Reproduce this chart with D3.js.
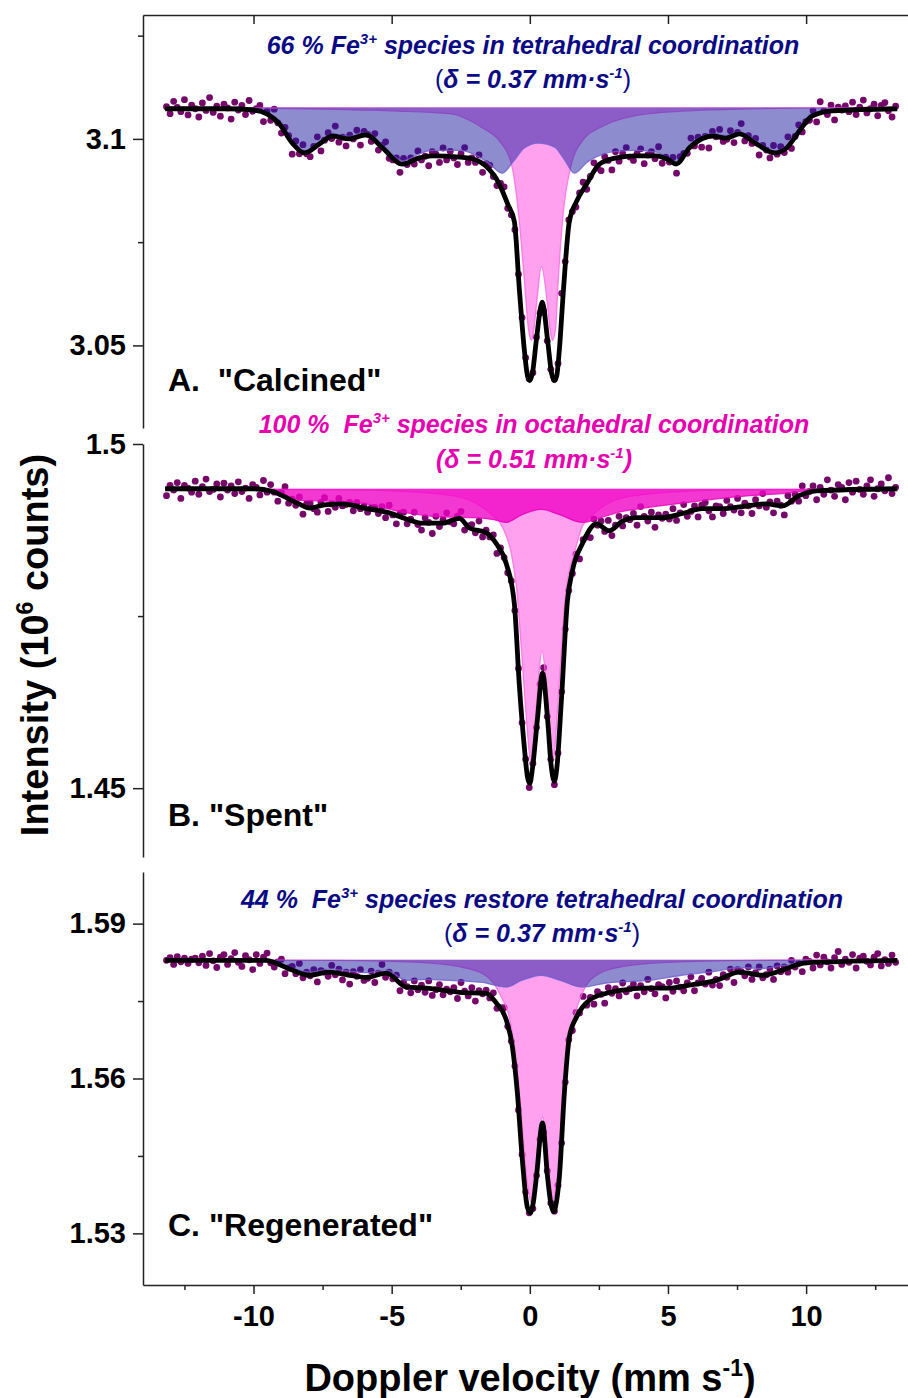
<!DOCTYPE html>
<html>
<head>
<meta charset="utf-8">
<script src="https://cdn.jsdelivr.net/npm/d3@7"></script>
<style>
  body { margin: 0; background: #fff; }
  svg { display: block; font-family: "Liberation Sans", Arial, sans-serif; }
  text { white-space: pre; }
</style>
</head>
<body>
<div id="chart"></div>
<script>
// channel velocities (mm/s) of the folded spectra: first channel and spacing
const velStart = -13.15;
const velStep = 0.13;

// measured counts (10^6) per channel
const countsA = [
  3.1078, 3.1061, 3.1091, 3.1076, 3.1066, 3.1095, 3.1058, 3.1082, 3.1073, 3.1053,
  3.1087, 3.1069, 3.1100, 3.1064, 3.1079, 3.1055, 3.1084, 3.1075, 3.1048, 3.1089,
  3.1070, 3.1081, 3.1059, 3.1093, 3.1067, 3.1073, 3.1081, 3.1042, 3.1067, 3.1045,
  3.1072, 3.1039, 3.1014, 3.1028, 3.1008, 3.0963, 3.0995, 3.0964, 3.0986, 3.0964,
  3.0957, 3.0982, 3.1005, 3.0971, 3.0997, 3.1015, 3.1001, 3.1031, 3.0992, 3.1004,
  3.0983, 3.1009, 3.1000, 3.1021, 3.0985, 3.1018, 3.1011, 3.0994, 3.1013, 3.0973,
  3.0984, 3.0993, 3.0953, 3.0949, 3.0954, 3.0919, 3.0953, 3.0938, 3.0954, 3.0939,
  3.0971, 3.0949, 3.0958, 3.0935, 3.0969, 3.0963, 3.0943, 3.0978, 3.0949, 3.0970,
  3.0954, 3.0938, 3.0964, 3.0979, 3.0943, 3.0954, 3.0943, 3.0961, 3.0919, 3.0940,
  3.0936, 3.0909, 3.0887, 3.0892, 3.0884, 3.0832, 3.0816, 3.0780, 3.0672, 3.0567,
  3.0470, 3.0419, 3.0434, 3.0520, 3.0578, 3.0583, 3.0511, 3.0442, 3.0418, 3.0456,
  3.0626, 3.0703, 3.0804, 3.0824, 3.0835, 3.0869, 3.0895, 3.0878, 3.0909, 3.0942,
  3.0929, 3.0923, 3.0957, 3.0948, 3.0925, 3.0969, 3.0946, 3.0965, 3.0979, 3.0956,
  3.0948, 3.0964, 3.0976, 3.0940, 3.0961, 3.0969, 3.0952, 3.0981, 3.0941, 3.0956,
  3.0944, 3.0955, 3.0917, 3.0957, 3.0965, 3.0965, 3.1002, 3.0983, 3.1004, 3.0980,
  3.1006, 3.0978, 3.1018, 3.1005, 3.1023, 3.0994, 3.0999, 3.1020, 3.0991, 3.1016,
  3.1037, 3.0995, 3.1008, 3.0989, 3.1001, 3.0961, 3.0984, 3.0973, 3.0954, 3.0984,
  3.0963, 3.0981, 3.0967, 3.1005, 3.0977, 3.1006, 3.1034, 3.1017, 3.1042, 3.1045,
  3.1068, 3.1041, 3.1090, 3.1068, 3.1059, 3.1082, 3.1046, 3.1077, 3.1070, 3.1080,
  3.1066, 3.1089, 3.1059, 3.1077, 3.1094, 3.1063, 3.1073, 3.1084, 3.1056, 3.1081,
  3.1088, 3.1068, 3.1053, 3.1079
];
const countsB = [
  1.4925, 1.4940, 1.4933, 1.4944, 1.4921, 1.4940, 1.4936, 1.4930, 1.4946, 1.4927,
  1.4938, 1.4949, 1.4931, 1.4934, 1.4942, 1.4923, 1.4943, 1.4933, 1.4939, 1.4928,
  1.4945, 1.4931, 1.4936, 1.4921, 1.4941, 1.4937, 1.4926, 1.4947, 1.4930, 1.4941,
  1.4930, 1.4917, 1.4930, 1.4938, 1.4914, 1.4920, 1.4911, 1.4923, 1.4898, 1.4913,
  1.4914, 1.4906, 1.4901, 1.4915, 1.4922, 1.4902, 1.4913, 1.4908, 1.4921, 1.4910,
  1.4912, 1.4915, 1.4903, 1.4915, 1.4906, 1.4910, 1.4901, 1.4907, 1.4908, 1.4899,
  1.4909, 1.4893, 1.4911, 1.4897, 1.4884, 1.4899, 1.4901, 1.4884, 1.4891, 1.4901,
  1.4883, 1.4875, 1.4893, 1.4886, 1.4870, 1.4895, 1.4880, 1.4890, 1.4900, 1.4887,
  1.4884, 1.4895, 1.4902, 1.4875, 1.4881, 1.4883, 1.4871, 1.4888, 1.4865, 1.4875,
  1.4865, 1.4868, 1.4841, 1.4849, 1.4835, 1.4813, 1.4801, 1.4758, 1.4674, 1.4595,
  1.4542, 1.4501, 1.4536, 1.4588, 1.4651, 1.4675, 1.4604, 1.4542, 1.4505, 1.4551,
  1.4640, 1.4731, 1.4787, 1.4812, 1.4840, 1.4833, 1.4861, 1.4865, 1.4864, 1.4891,
  1.4882, 1.4888, 1.4873, 1.4889, 1.4867, 1.4882, 1.4895, 1.4881, 1.4893, 1.4890,
  1.4899, 1.4882, 1.4909, 1.4895, 1.4888, 1.4901, 1.4879, 1.4897, 1.4892, 1.4898,
  1.4891, 1.4906, 1.4889, 1.4900, 1.4912, 1.4895, 1.4902, 1.4910, 1.4894, 1.4911,
  1.4915, 1.4903, 1.4894, 1.4910, 1.4909, 1.4899, 1.4918, 1.4909, 1.4904, 1.4921,
  1.4900, 1.4914, 1.4910, 1.4899, 1.4919, 1.4910, 1.4928, 1.4908, 1.4916, 1.4900,
  1.4917, 1.4911, 1.4897, 1.4925, 1.4917, 1.4927, 1.4917, 1.4939, 1.4925, 1.4931,
  1.4939, 1.4919, 1.4937, 1.4927, 1.4948, 1.4933, 1.4924, 1.4941, 1.4937, 1.4919,
  1.4944, 1.4930, 1.4946, 1.4934, 1.4927, 1.4939, 1.4948, 1.4924, 1.4935, 1.4942,
  1.4932, 1.4951, 1.4928, 1.4937
];
const countsC = [
  1.5829, 1.5834, 1.5821, 1.5836, 1.5826, 1.5833, 1.5823, 1.5831, 1.5833, 1.5824,
  1.5837, 1.5819, 1.5842, 1.5828, 1.5815, 1.5835, 1.5840, 1.5821, 1.5832, 1.5844,
  1.5825, 1.5817, 1.5838, 1.5830, 1.5811, 1.5840, 1.5823, 1.5835, 1.5843, 1.5824,
  1.5816, 1.5826, 1.5831, 1.5803, 1.5814, 1.5817, 1.5803, 1.5823, 1.5795, 1.5806,
  1.5799, 1.5811, 1.5787, 1.5809, 1.5806, 1.5798, 1.5819, 1.5801, 1.5812, 1.5791,
  1.5806, 1.5783, 1.5807, 1.5798, 1.5811, 1.5790, 1.5794, 1.5808, 1.5786, 1.5804,
  1.5821, 1.5796, 1.5806, 1.5793, 1.5800, 1.5770, 1.5786, 1.5778, 1.5766, 1.5789,
  1.5772, 1.5781, 1.5767, 1.5789, 1.5761, 1.5772, 1.5782, 1.5762, 1.5773, 1.5768,
  1.5776, 1.5755, 1.5786, 1.5769, 1.5760, 1.5776, 1.5750, 1.5770, 1.5764, 1.5771,
  1.5756, 1.5766, 1.5736, 1.5737, 1.5737, 1.5701, 1.5672, 1.5624, 1.5539, 1.5453,
  1.5380, 1.5340, 1.5348, 1.5412, 1.5482, 1.5496, 1.5421, 1.5359, 1.5343, 1.5393,
  1.5475, 1.5593, 1.5675, 1.5693, 1.5728, 1.5727, 1.5759, 1.5742, 1.5757, 1.5744,
  1.5768, 1.5763, 1.5746, 1.5776, 1.5765, 1.5774, 1.5760, 1.5785, 1.5768, 1.5774,
  1.5783, 1.5760, 1.5780, 1.5768, 1.5792, 1.5774, 1.5764, 1.5782, 1.5778, 1.5756,
  1.5786, 1.5769, 1.5789, 1.5777, 1.5770, 1.5785, 1.5797, 1.5770, 1.5785, 1.5794,
  1.5783, 1.5806, 1.5781, 1.5792, 1.5780, 1.5801, 1.5796, 1.5812, 1.5786, 1.5811,
  1.5807, 1.5799, 1.5816, 1.5792, 1.5805, 1.5816, 1.5795, 1.5801, 1.5812, 1.5792,
  1.5818, 1.5807, 1.5816, 1.5806, 1.5829, 1.5816, 1.5823, 1.5807, 1.5831, 1.5827,
  1.5814, 1.5839, 1.5820, 1.5835, 1.5826, 1.5814, 1.5834, 1.5846, 1.5821, 1.5831,
  1.5825, 1.5840, 1.5814, 1.5833, 1.5837, 1.5827, 1.5820, 1.5835, 1.5842, 1.5818,
  1.5830, 1.5823, 1.5839, 1.5825
];

// fitted envelope and sub-spectra, [velocity, counts]
const fitA = [[-13.2,3.1073],[-11,3.1073],[-10,3.1070],[-9.5,3.1060],[-9.07,3.1037],[-8.6,3.0990],[-8.16,3.0966],[-7.61,3.0988],[-7.14,3.1007],[-6.53,3.1000],[-5.92,3.1010],[-5.33,3.0978],[-4.61,3.0939],[-4.0,3.0954],[-3.53,3.0959],[-2.55,3.0956],[-2.0,3.0950],[-1.6,3.0935],[-1.1,3.0890],[-0.8,3.0842],[-0.56,3.0800],[-0.38,3.0637],[-0.2,3.0490],[-0.08,3.0425],[0,3.0415],[0.1,3.0435],[0.24,3.0515],[0.45,3.0605],[0.64,3.0515],[0.78,3.0435],[0.88,3.0415],[0.97,3.0425],[1.07,3.0490],[1.22,3.0637],[1.43,3.0800],[1.7,3.0850],[2.05,3.0890],[2.52,3.0939],[3.13,3.0954],[3.85,3.0959],[4.58,3.0959],[5.0,3.0950],[5.3,3.0939],[5.77,3.0978],[6.61,3.1007],[7.11,3.1002],[7.58,3.1012],[8.2,3.0988],[8.85,3.0966],[9.29,3.0978],[9.76,3.1020],[10.23,3.1056],[10.95,3.1068],[13.3,3.1073]];
const sextetA = [[-13.2,3.1076],[-11,3.1075],[-10,3.1073],[-9.5,3.1064],[-9.07,3.1040],[-8.6,3.0994],[-8.16,3.0970],[-7.61,3.0993],[-7.14,3.1012],[-6.53,3.1006],[-5.92,3.1016],[-5.33,3.0985],[-4.61,3.0947],[-4.0,3.0964],[-3.53,3.0972],[-2.55,3.0972],[-2.0,3.0962],[-1.5,3.0942],[-1.0,3.0917],[-0.6,3.0945],[-0.2,3.0978],[0.3,3.0990],[0.9,3.0980],[1.25,3.0950],[1.61,3.0917],[2.1,3.0945],[2.6,3.0962],[3.13,3.0970],[3.85,3.0972],[4.58,3.0968],[5.3,3.0945],[5.77,3.0985],[6.61,3.1013],[7.11,3.1008],[7.58,3.1017],[8.2,3.0994],[8.85,3.0970],[9.29,3.0984],[9.76,3.1025],[10.23,3.1060],[10.95,3.1071],[13.3,3.1076]];
const doubletA = [[-13.2,3.1077],[-8,3.1073],[-5,3.1068],[-2.9,3.1061],[-1.72,3.1027],[-1.1,3.0995],[-0.67,3.0940],[-0.38,3.0800],[-0.2,3.0660],[-0.05,3.0540],[0.06,3.0512],[0.15,3.0540],[0.24,3.0598],[0.42,3.0690],[0.64,3.0598],[0.73,3.0540],[0.82,3.0512],[0.93,3.0540],[1.03,3.0660],[1.18,3.0800],[1.51,3.0940],[1.9,3.0995],[2.52,3.1027],[4.3,3.1061],[7,3.1071],[13.3,3.1077]];

const fitB = [[-13.2,1.4935],[-10,1.4935],[-9.3,1.4931],[-8.96,1.4925],[-8.35,1.4913],[-7.99,1.4907],[-7.36,1.4912],[-6.79,1.4913],[-5.92,1.4906],[-5.19,1.4901],[-4.47,1.4891],[-3.89,1.4885],[-3.16,1.4885],[-2.55,1.4892],[-2.19,1.4878],[-1.57,1.4871],[-1.21,1.4855],[-0.85,1.4826],[-0.56,1.4768],[-0.38,1.4650],[-0.2,1.4560],[-0.08,1.4515],[0,1.4507],[0.1,1.4530],[0.28,1.4602],[0.46,1.4667],[0.64,1.4602],[0.78,1.4530],[0.89,1.4510],[0.98,1.4530],[1.14,1.4626],[1.36,1.4772],[1.54,1.4816],[1.9,1.4855],[2.41,1.4884],[2.88,1.4874],[3.35,1.4888],[3.85,1.4893],[4.8,1.4893],[5.52,1.4899],[6.24,1.4906],[6.97,1.4906],[7.69,1.4909],[8.56,1.4913],[9.14,1.4910],[9.75,1.4925],[10.37,1.4932],[13.3,1.4935]];
const broadB = [[-13.2,1.4935],[-10,1.4935],[-9.2,1.4932],[-8.35,1.4918],[-7.15,1.4917],[-5.92,1.4913],[-4.47,1.4900],[-3.16,1.4894],[-2.0,1.4893],[-1.3,1.4890],[-0.85,1.4886],[-0.3,1.4897],[0.42,1.4905],[1.1,1.4897],[1.9,1.4886],[2.5,1.4892],[3.13,1.4900],[4.3,1.4908],[5.52,1.4914],[6.7,1.4920],[7.95,1.4925],[9.14,1.4928],[10,1.4932],[11,1.4935],[13.3,1.4935]];
const doubletB = [[-13.2,1.4935],[-6,1.4933],[-3,1.4926],[-2,1.4915],[-1.4,1.4898],[-1.0,1.4880],[-0.67,1.4841],[-0.48,1.4791],[-0.3,1.4700],[-0.12,1.4600],[0.03,1.4539],[0.14,1.4570],[0.28,1.4640],[0.44,1.4699],[0.62,1.4640],[0.75,1.4570],[0.86,1.4543],[0.98,1.4600],[1.14,1.4700],[1.32,1.4791],[1.61,1.4841],[1.9,1.4880],[2.3,1.4898],[2.9,1.4915],[4,1.4926],[7,1.4933],[13.3,1.4935]];

const fitC = [[-13.2,1.5829],[-9.54,1.5829],[-9.17,1.5823],[-8.6,1.5810],[-7.98,1.5800],[-7.25,1.5806],[-6.53,1.5800],[-5.92,1.5796],[-5.19,1.5804],[-4.47,1.5777],[-3.75,1.5775],[-2.55,1.5767],[-1.57,1.5765],[-1.21,1.5746],[-0.85,1.5713],[-0.63,1.5661],[-0.45,1.5572],[-0.27,1.5442],[-0.09,1.5351],[0.02,1.5340],[0.12,1.5358],[0.24,1.5410],[0.46,1.5514],[0.64,1.5410],[0.76,1.5358],[0.86,1.5342],[0.96,1.5360],[1.07,1.5410],[1.25,1.5572],[1.43,1.5680],[1.69,1.5719],[2.16,1.5752],[2.77,1.5765],[3.35,1.5771],[4.07,1.5775],[5.05,1.5775],[5.77,1.5781],[6.75,1.5790],[7.58,1.5806],[8.42,1.5800],[9.14,1.5810],[9.86,1.5823],[10.37,1.5825],[13.3,1.5829]];
const sextetC = [[-13.2,1.5830],[-10,1.5830],[-9.3,1.5826],[-8.6,1.5814],[-7.98,1.5806],[-7.25,1.5812],[-6.53,1.5808],[-5.92,1.5805],[-5.19,1.5810],[-4.47,1.5790],[-3.75,1.5792],[-2.9,1.5790],[-1.72,1.5786],[-0.85,1.5777],[-0.3,1.5790],[0.42,1.5800],[1.1,1.5790],[1.9,1.5777],[2.77,1.5785],[4.3,1.5790],[5.5,1.5800],[6.75,1.5808],[7.58,1.5815],[8.42,1.5813],[9.14,1.5819],[10.37,1.5825],[11,1.5829],[13.3,1.5830]];
const doubletC = [[-13.2,1.5830],[-7,1.5829],[-4,1.5825],[-2.6,1.5817],[-1.7,1.5803],[-1.1,1.5765],[-0.67,1.5699],[-0.38,1.5572],[-0.12,1.5410],[0.06,1.5359],[0.17,1.5390],[0.28,1.5442],[0.46,1.5525],[0.64,1.5442],[0.75,1.5392],[0.85,1.5365],[0.96,1.5395],[1.07,1.5442],[1.25,1.5572],[1.54,1.5699],[1.9,1.5765],[2.5,1.5803],[3.4,1.5817],[5,1.5825],[8,1.5829],[13.3,1.5830]];

// axes
const xDomain = [-14, 14];
const xMajor = [-10, -5, 0, 5, 10];
const xMinor = [-12.5, -7.5, -2.5, 2.5, 7.5, 12.5];
const yDomainA = [3.03, 3.13], yMajorA = [3.05, 3.1], yMinorA = [3.075, 3.125];
const yDomainB = [1.44, 1.5], yMajorB = [1.45, 1.5], yMinorB = [1.475];
const yDomainC = [1.52, 1.6], yMajorC = [1.53, 1.56, 1.59], yMinorC = [1.545, 1.575];

const panelLabels = ['A.  "Calcined"', 'B. "Spent"', 'C. "Regenerated"'];

const width = 908;
const height = 1398;
const marginLeft = 143;
const panelHeight = 413;
const axisColor = '#222';
const font = '"Liberation Sans", Arial, sans-serif';
const navy = '#0a0a85';
const magenta = '#e600b0';

const x = d3.scaleLinear().domain(xDomain).range([marginLeft, marginLeft + 28 * 27.63]);

const svg = d3.create('svg')
    .attr('width', width)
    .attr('height', height)
    .attr('viewBox', [0, 0, width, height]);

const panels = [
    {
        counts: countsA, fit: fitA, domain: yDomainA, major: yMajorA, minor: yMinorA, top: 15,
        parts: [
            { data: doubletA, fill: '#ff44e0', opacity: 0.5, stroke: '#ff66e0' },
            { data: sextetA, fill: '#1a1aa0', opacity: 0.5, stroke: '#6f5fd0' }
        ],
        label: panelLabels[0], labelY: 391,
        note: [
            { y: 54, parts: [{ t: '66 % Fe' }, { t: '3+', sup: true }, { t: ' species in tetrahedral coordination' }] },
            { y: 88, parts: [{ t: '(', plain: true }, { t: 'δ = 0.37 mm·s' }, { t: '-1', sup: true }, { t: ')', plain: true }] }
        ],
        noteColor: navy, noteX: 533
    },
    {
        counts: countsB, fit: fitB, domain: yDomainB, major: yMajorB, minor: yMinorB, top: 444,
        parts: [
            { data: doubletB, fill: '#ff44e0', opacity: 0.5, stroke: '#ff66e0' },
            { data: broadB, fill: '#f000c4', opacity: 0.78, stroke: '#e800bc' }
        ],
        label: panelLabels[1], labelY: 826,
        note: [
            { y: 433, parts: [{ t: '100 %  Fe' }, { t: '3+', sup: true }, { t: ' species in octahedral coordination' }] },
            { y: 468, parts: [{ t: '(δ = 0.51 mm·s' }, { t: '-1', sup: true }, { t: ')' }] }
        ],
        noteColor: magenta, noteX: 534
    },
    {
        counts: countsC, fit: fitC, domain: yDomainC, major: yMajorC, minor: yMinorC, top: 872,
        parts: [
            { data: doubletC, fill: '#ff44e0', opacity: 0.5, stroke: '#ff66e0' },
            { data: sextetC, fill: '#1a1aa0', opacity: 0.5, stroke: '#6f5fd0' }
        ],
        label: panelLabels[2], labelY: 1236,
        note: [
            { y: 908, parts: [{ t: '44 %  Fe' }, { t: '3+', sup: true }, { t: ' species restore tetrahedral coordination' }] },
            { y: 942, parts: [{ t: '(', plain: true }, { t: 'δ = 0.37 mm·s' }, { t: '-1', sup: true }, { t: ')', plain: true }] }
        ],
        noteColor: navy, noteX: 542
    }
];

const styleAxis = g => g
    .attr('font-family', font)
    .call(g => g.selectAll('path, line').attr('stroke', axisColor).attr('stroke-width', 1.5));

panels.forEach(p => {
    const y = d3.scaleLinear()
        .domain(p.domain)
        .range([p.top + panelHeight, p.top]);

    const g = svg.append('g');

    // measured points
    g.append('g')
        .attr('fill', '#76086a')
        .selectAll('circle')
        .data(p.counts)
        .join('circle')
        .attr('cx', (d, i) => x(velStart + i * velStep))
        .attr('cy', (d) => y(d))
        .attr('r', 3.4);

    // sub-spectra as filled areas from their own baseline
    p.parts.forEach(c => {
        const base = d3.max(c.data, d => d[1]);
        const area = d3.area()
            .x(d => x(d[0]))
            .y0(y(base))
            .y1(d => y(d[1]))
            .curve(d3.curveMonotoneX);
        g.append('path')
            .datum(c.data)
            .attr('d', area)
            .attr('fill', c.fill)
            .attr('fill-opacity', c.opacity);
        g.append('path')
            .datum(c.data)
            .attr('d', d3.line().x(d => x(d[0])).y(d => y(d[1])).curve(d3.curveMonotoneX))
            .attr('fill', 'none')
            .attr('stroke', c.stroke)
            .attr('stroke-width', 1.3)
            .attr('stroke-opacity', 0.8);
    });

    // total fit
    g.append('path')
        .datum(p.fit)
        .attr('d', d3.line().x(d => x(d[0])).y(d => y(d[1])).curve(d3.curveMonotoneX))
        .attr('fill', 'none')
        .attr('stroke', '#000')
        .attr('stroke-width', 4.8)
        .attr('stroke-linejoin', 'round');

    // y axis
    svg.append('g')
        .attr('transform', `translate(${marginLeft},0)`)
        .call(d3.axisLeft(y).tickValues(p.major).tickSize(10).tickPadding(7).tickSizeOuter(0)
            .tickFormat(d => String(d)))
        .call(styleAxis)
        .call(g => g.selectAll('text')
            .attr('font-size', 29)
            .attr('font-weight', 'bold')
            .attr('fill', '#000'));

    svg.append('g')
        .attr('transform', `translate(${marginLeft},0)`)
        .call(d3.axisLeft(y).tickValues(p.minor).tickSize(5).tickFormat(''))
        .call(g => g.select('.domain').remove())
        .call(styleAxis);

    // panel label
    svg.append('text')
        .attr('x', 168)
        .attr('y', p.labelY)
        .attr('font-size', 32)
        .attr('font-weight', 'bold')
        .attr('fill', '#000')
        .text(p.label);

    // annotation
    p.note.forEach(line => {
        const t = svg.append('text')
            .attr('x', p.noteX)
            .attr('y', line.y)
            .attr('text-anchor', 'middle')
            .attr('font-size', 25)
            .attr('font-weight', 'bold')
            .attr('font-style', 'italic')
            .attr('fill', p.noteColor);
        let raised = false;
        line.parts.forEach(part => {
            const s = t.append('tspan').text(part.t);
            if (part.sup) {
                s.attr('font-size', 15).attr('dy', -10);
                raised = true;
            } else if (raised) {
                s.attr('dy', 10);
                raised = false;
            }
            if (part.plain) s.attr('font-weight', 'normal').attr('font-style', 'normal');
        });
    });
});

// top frame of the first panel
svg.append('g')
    .attr('transform', `translate(0,${panels[0].top})`)
    .call(d3.axisTop(x).tickValues(xMajor).tickSize(-9).tickSizeOuter(0).tickFormat(''))
    .call(styleAxis);

// bottom axis
const bottom = panels[2].top + panelHeight;
svg.append('g')
    .attr('transform', `translate(0,${bottom})`)
    .call(d3.axisBottom(x).tickValues(xMajor).tickSize(9).tickPadding(11).tickSizeOuter(0)
        .tickFormat(d => String(d)))
    .call(styleAxis)
    .call(g => g.selectAll('text')
        .attr('font-size', 29)
        .attr('font-weight', 'bold')
        .attr('fill', '#000'));

svg.append('g')
    .attr('transform', `translate(0,${bottom})`)
    .call(d3.axisBottom(x).tickValues(xMinor).tickSize(5).tickFormat(''))
    .call(g => g.select('.domain').remove())
    .call(styleAxis);

// axis titles
const xTitle = svg.append('text')
    .attr('x', 530)
    .attr('y', 1391)
    .attr('text-anchor', 'middle')
    .attr('font-size', 38)
    .attr('font-weight', 'bold')
    .attr('fill', '#000');
xTitle.append('tspan').text('Doppler velocity (mm s');
xTitle.append('tspan').attr('font-size', 23).attr('dy', -15).text('-1');
xTitle.append('tspan').attr('dy', 15).text(')');

const yTitle = svg.append('text')
    .attr('transform', 'translate(48,645) rotate(-90)')
    .attr('text-anchor', 'middle')
    .attr('font-size', 38)
    .attr('font-weight', 'bold')
    .attr('fill', '#000');
yTitle.append('tspan').text('Intensity (10');
yTitle.append('tspan').attr('font-size', 23).attr('dy', -15).text('6');
yTitle.append('tspan').attr('dy', 15).text(' counts)');

document.getElementById('chart').append(svg.node());
</script>
</body>
</html>
